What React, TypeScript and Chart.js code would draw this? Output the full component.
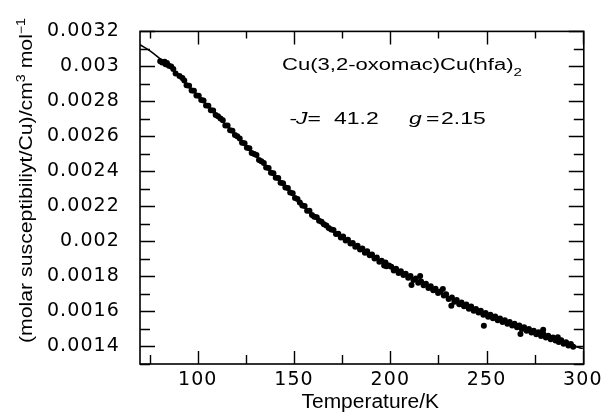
import React, { useEffect, useRef } from "react";
import { Chart, registerables } from "chart.js";

Chart.register(...registerables);

// Measured points: temperature (K) and molar susceptibility (cm^3 mol^-1)
const measuredTemps = [
  80.5, 81.5, 82.8, 83.3,
  84.0, 85.0, 86.2, 87.3, 88.5, 90.5, 92.0, 93.0, 94.2, 95.5, 96.8, 98.0, 99.3,
  100.5, 101.8, 103.0, 104.3, 105.5, 106.8, 108.0, 109.3, 110.5, 111.8, 113.0,
  114.3, 115.5, 116.8, 118.0, 119.3, 120.5, 121.8, 123.0, 124.3, 125.5, 126.8,
  128.0, 129.3, 130.5, 131.8, 133.0, 134.3, 135.5, 136.8, 138.0, 139.3, 140.5,
  141.8, 143.0, 144.3, 145.5, 146.8, 148.0, 149.3, 150.5, 151.8, 153.0, 154.3,
  155.5, 156.8, 158.0, 159.3, 160.5, 161.8, 163.0, 164.3, 165.5, 166.8, 168.0,
  169.3, 170.5, 171.8, 173.0, 174.3, 175.5, 176.8, 178.0, 179.3, 180.5, 181.8,
  183.0, 184.3, 185.5, 186.8, 188.0, 189.3, 190.5, 191.8, 193.0, 194.3, 195.5,
  196.8, 197.5, 198.0, 199.3, 200.5, 201.8, 203.0, 204.3, 205.5, 206.8, 208.0,
  209.3, 210.5, 211.0, 212.0, 213.3, 214.5, 215.5, 216.0, 217.3, 218.5, 219.8,
  221.0, 222.3, 223.5, 224.8, 226.0, 227.3, 227.8, 229.0, 230.3, 231.7, 232.0,
  233.3, 234.5, 235.8, 237.0, 238.3, 239.5, 240.8, 242.0, 243.3, 244.5, 245.8,
  247.0, 248.3, 248.6, 249.5, 250.8, 252.0, 253.3, 254.5, 255.8, 257.0, 258.3,
  259.5, 260.8, 262.0, 263.3, 264.5, 265.8, 267.0, 267.6, 268.3, 269.5, 270.8,
  272.0, 273.3, 274.5, 275.8, 277.0, 278.3, 279.4, 279.5, 280.8, 282.0, 283.3,
  284.5, 285.8, 287.0, 287.5, 288.8, 290.0, 291.3, 292.5, 293.8, 295.0,
];

const measuredChi = [
  0.00303, 0.003022, 0.003026, 0.003012,
  0.003019, 0.003004, 0.003, 0.002985, 0.00296, 0.002945, 0.002934, 0.00292,
  0.002892, 0.00289, 0.002862, 0.002861, 0.002834, 0.002833, 0.002808, 0.002805,
  0.002776, 0.002775, 0.002749, 0.002748, 0.002722, 0.002715, 0.002702, 0.002693,
  0.002662, 0.002663, 0.002636, 0.002633, 0.002608, 0.002601, 0.002588, 0.002564,
  0.002561, 0.002536, 0.002533, 0.002506, 0.002499, 0.002494, 0.002466, 0.002458,
  0.002448, 0.002422, 0.002419, 0.002393, 0.002389, 0.002364, 0.002363, 0.002336,
  0.002333, 0.002308, 0.002306, 0.00228, 0.002276, 0.002248, 0.002243, 0.002223,
  0.002206, 0.002203, 0.002176, 0.002175, 0.002151, 0.002141, 0.002138, 0.002118,
  0.002112, 0.002098, 0.002091, 0.002077, 0.002069, 0.002066, 0.002042, 0.002044,
  0.002022, 0.002029, 0.002006, 0.00201, 0.001988, 0.001991, 0.00197, 0.001976,
  0.001954, 0.00196, 0.001936, 0.001944, 0.001921, 0.001926, 0.001902, 0.001909,
  0.001884, 0.00189, 0.001862, 0.00188, 0.001858, 0.001862, 0.001856, 0.001834,
  0.001844, 0.00182, 0.00183, 0.001808, 0.001816, 0.001792, 0.001802, 0.001752,
  0.00178, 0.001788, 0.001764, 0.001802, 0.001772, 0.00175, 0.001758, 0.001734,
  0.001744, 0.001722, 0.00173, 0.001706, 0.001714, 0.001728, 0.001692, 0.001698,
  0.001672, 0.001633, 0.00168, 0.001656, 0.001666, 0.001642, 0.001652, 0.00163,
  0.00164, 0.001616, 0.001628, 0.001604, 0.001614, 0.001594, 0.001604, 0.001582,
  0.001518, 0.001592, 0.00157, 0.001582, 0.001562, 0.001572, 0.00155, 0.00156,
  0.00154, 0.00155, 0.00153, 0.00154, 0.00152, 0.00153, 0.00151, 0.00152,
  0.001471, 0.0015, 0.00151, 0.00149, 0.0015, 0.00148, 0.00149, 0.00147, 0.001482,
  0.00146, 0.001495, 0.001472, 0.001452, 0.001462, 0.001442, 0.001452, 0.001434,
  0.001453, 0.001426, 0.001436, 0.001416, 0.001424, 0.001406, 0.001414, 0.001398,
];

// Fitted curve (-J = 41.2, g = 2.15)
const fitTemps = [70, 75, 80, 85, 90, 100, 110, 120, 130, 140, 150, 160, 170, 180, 190, 200, 210, 220, 230, 240, 250, 260, 270, 280, 290, 300];
const fitChi = [
  0.003124, 0.00309, 0.003048, 0.003004, 0.002947, 0.002833, 0.002719, 0.002605,
  0.00249, 0.002375, 0.00226, 0.002145, 0.002062, 0.001988, 0.001923, 0.001852,
  0.001794, 0.001742, 0.001682, 0.001628, 0.001582, 0.00154, 0.0015, 0.001462,
  0.001422, 0.001388,
];

const xTickValues = [100, 150, 200, 250, 300];
const xTickLabels = ["100", "150", "200", "250", "300"];
const yTickValues = [0.0014, 0.0016, 0.0018, 0.002, 0.0022, 0.0024, 0.0026, 0.0028, 0.003, 0.0032];
const yTickLabels = ["0.0014", "0.0016", "0.0018", "0.002", "0.0022", "0.0024", "0.0026", "0.0028", "0.003", "0.0032"];

const compoundLabel = "Cu(3,2-oxomac)Cu(hfa)";
const xTitle = "Temperature/K";
const yTitleMain = "(molar susceptibiliyt/Cu)/cm";

const SANS = '"Liberation Sans", Arial, sans-serif';

type Seg = { t: string; font: string; dy?: number };

function drawSegs(ctx: CanvasRenderingContext2D, segs: Seg[], x: number, y: number, width: number, rotate = false) {
  let total = 0;
  const widths: number[] = [];
  for (const s of segs) {
    ctx.font = s.font;
    const w = ctx.measureText(s.t).width;
    widths.push(w);
    total += w;
  }
  const sx = width / total;
  ctx.save();
  ctx.translate(x, y);
  if (rotate) ctx.rotate(-Math.PI / 2);
  ctx.scale(sx, 1);
  ctx.textAlign = "left";
  ctx.textBaseline = "alphabetic";
  ctx.fillStyle = "#000";
  let cx = 0;
  segs.forEach((s, i) => {
    ctx.font = s.font;
    ctx.fillText(s.t, cx, s.dy || 0);
    cx += widths[i];
  });
  ctx.restore();
}

function drawScaled(ctx: CanvasRenderingContext2D, text: string, x: number, y: number, font: string, sx: number) {
  ctx.save();
  ctx.translate(x, y);
  ctx.scale(sx, 1);
  ctx.font = font;
  ctx.textAlign = "left";
  ctx.textBaseline = "alphabetic";
  ctx.fillStyle = "#000";
  ctx.fillText(text, 0, 0);
  ctx.restore();
}

const decorPlugin = {
  id: "decor",
  beforeDraw(chart: any) {
    const ctx = chart.ctx;
    ctx.save();
    ctx.fillStyle = "#fff";
    ctx.fillRect(0, 0, chart.width, chart.height);
    ctx.restore();
    ctx.letterSpacing = "1.1px";
  },
  afterDraw(chart: any) {
    const ctx: CanvasRenderingContext2D = chart.ctx;
    (ctx as any).letterSpacing = "0px";
    const { left, right, top, bottom } = chart.chartArea;
    const xs = chart.scales.x;
    const ys = chart.scales.y;
    ctx.save();
    ctx.strokeStyle = "#000";
    ctx.lineWidth = 1.6;
    ctx.strokeRect(left, top, right - left, bottom - top);
    ctx.lineWidth = 1.4;
    ctx.beginPath();
    for (const t of xs.ticks) {
      const v = t.value;
      if (Math.abs(v / 25 - Math.round(v / 25)) > 1e-6) continue;
      const major = Math.round(v) % 50 === 0;
      const px = Math.round(xs.getPixelForValue(v)) + 0.5;
      ctx.moveTo(px, bottom);
      ctx.lineTo(px, bottom - (major ? 13 : 9));
      ctx.moveTo(px, top);
      ctx.lineTo(px, top + (major ? 13 : 7));
    }
    for (const t of ys.ticks) {
      const v = t.value;
      const k = Math.round(v * 1e4);
      if (Math.abs(v * 1e4 - k) > 1e-6) continue;
      const major = k % 2 === 0;
      const py = Math.round(ys.getPixelForValue(v)) + 0.5;
      ctx.moveTo(left, py);
      ctx.lineTo(left + (major ? 15 : 10), py);
      ctx.moveTo(right, py);
      ctx.lineTo(right - (major ? 15 : 10), py);
    }
    ctx.stroke();
    ctx.restore();

    // annotation line 1
    drawSegs(
      ctx,
      [
        { t: compoundLabel, font: `16px ${SANS}` },
        { t: "2", font: `11px ${SANS}`, dy: 6 },
      ],
      282,
      70,
      240
    );
    // annotation line 2
    const f2 = `17px ${SANS}`;
    const f2i = `italic 17px ${SANS}`;
    const sx = 1.35;
    drawScaled(ctx, "-", 289.5, 124, f2, sx);
    drawScaled(ctx, "J", 296, 124, f2i, sx);
    drawScaled(ctx, "=", 307.5, 124, f2, sx);
    drawScaled(ctx, "41.2", 334, 124, f2, sx);
    drawScaled(ctx, "g", 409, 124, f2i, sx);
    drawScaled(ctx, "=", 426, 124, f2, sx);
    drawScaled(ctx, "2.15", 441, 124, f2, sx);

    // axis titles
    drawSegs(ctx, [{ t: xTitle, font: `20px ${SANS}` }], 301.5, 408, 137.5);
    drawSegs(
      ctx,
      [
        { t: yTitleMain, font: `18px ${SANS}` },
        { t: "3", font: `12px ${SANS}`, dy: -7 },
        { t: " mol", font: `18px ${SANS}` },
        { t: "\u22121", font: `12px ${SANS}`, dy: -7 },
      ],
      32,
      343,
      325,
      true
    );
  },
};

export default function App() {
  const ref = useRef<HTMLCanvasElement | null>(null);
  useEffect(() => {
    if (!ref.current) return;
    const scatterPts = measuredTemps.map((t, i) => ({ x: t, y: measuredChi[i] }));
    const fitPts = fitTemps.map((t, i) => ({ x: t, y: fitChi[i] }));
    const chart = new Chart(ref.current, {
      type: "scatter",
      data: {
        datasets: [
          {
            label: "fit",
            data: fitPts,
            showLine: true,
            borderColor: "#000",
            borderWidth: 1.6,
            pointRadius: 0,
            cubicInterpolationMode: "monotone",
            fill: false,
          } as any,
          {
            label: "measured",
            data: scatterPts,
            pointRadius: 3,
            pointBackgroundColor: "#000",
            pointBorderWidth: 0,
            borderColor: "#000",
            showLine: false,
          } as any,
        ],
      },
      options: {
        responsive: false,
        animation: false,
        devicePixelRatio: 1,
        layout: { padding: { left: 0, right: 17, top: 23, bottom: 0 } },
        plugins: { legend: { display: false }, tooltip: { enabled: false } },
        scales: {
          x: {
            type: "linear",
            position: "bottom",
            min: 70,
            max: 300.5,
            grid: { display: false, drawTicks: false },
            border: { display: false },
            title: { display: false },
            afterFit: (s: any) => {
              s.height = 51;
            },
            ticks: {
              stepSize: 25,
              includeBounds: false,
              autoSkip: false,
              maxRotation: 0,
              minRotation: 0,
              padding: 5,
              color: "#000",
              font: { family: "DejaVu Sans", size: 19 },
              callback: (v: any) => {
                const i = xTickValues.findIndex((t) => Math.abs(t - Number(v)) < 1e-6);
                return i >= 0 ? xTickLabels[i] : "";
              },
            },
          },
          y: {
            type: "linear",
            position: "left",
            min: 0.0013,
            max: 0.0032,
            grid: { display: false, drawTicks: false },
            border: { display: false },
            title: { display: false },
            afterFit: (s: any) => {
              s.width = 140;
            },
            ticks: {
              stepSize: 0.0001,
              includeBounds: false,
              autoSkip: false,
              padding: 20,
              color: "#000",
              font: { family: "DejaVu Sans", size: 19 },
              callback: (v: any) => {
                const i = yTickValues.findIndex((t) => Math.abs(t - Number(v)) < 1e-9);
                return i >= 0 ? yTickLabels[i] : "";
              },
            },
          },
        },
      } as any,
      plugins: [decorPlugin],
    });
    return () => chart.destroy();
  }, []);
  return (
    <div style={{ position: "absolute", left: 0, top: 0, width: 606, height: 415 }}>
      <canvas ref={ref} width={606} height={415} style={{ display: "block" }} />
    </div>
  );
}
